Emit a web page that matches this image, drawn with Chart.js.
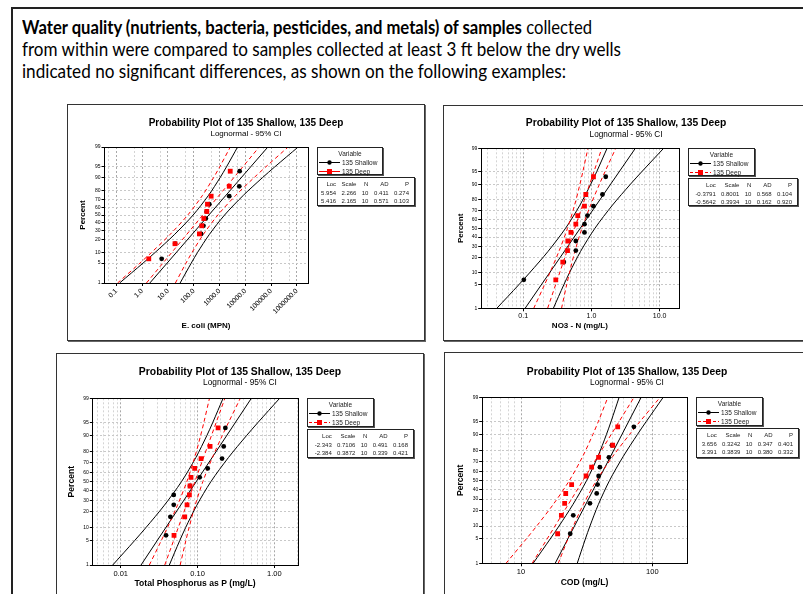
<!DOCTYPE html>
<html>
<head>
<meta charset="utf-8">
<script src="https://cdn.jsdelivr.net/npm/chart.js@4.4.1/dist/chart.umd.min.js"></script>
<style>
  html, body { margin: 0; padding: 0; background: #fff; overflow: hidden; }
  body { width: 803px; height: 594px; position: relative; font-family: 'Liberation Sans', Arial, sans-serif; }
  #frame { position: absolute; left: 11px; top: 7px; width: 900px; height: 700px; border: 2px solid #222; }
  .line { position: absolute; left: 22px; font-family: Lato, 'Open Sans', sans-serif; font-size: 19px; line-height: 22px; white-space: nowrap; transform-origin: 0 0; color: #000; }
  .panel { position: absolute; border: 1px solid #333; box-shadow: 1px 1px 0 #666; background: #fff; }
  .panel canvas { position: absolute; left: 0; top: 0; }
  .leg, .stats { position: absolute; border: 1px solid #222; box-shadow: 1px 1px 0 #555; background: #fff; color: #222; font-size: 6px; box-sizing: border-box; }
  .leg { font-size: 6.5px; }
  .leg .lhead { text-align: center; line-height: 9px; height: 9px; margin-top: 0.5px; }
  .leg .lrow { line-height: 9px; height: 9px; white-space: nowrap; }
  .leg svg { display: inline-block; vertical-align: top; margin-left: 1px; margin-right: 2px; }
  .stats table { border-collapse: collapse; float: right; margin-right: 5px; margin-top: 2px; }
  .stats td { text-align: right; padding: 0 0 0 5.3px; line-height: 8.7px; white-space: nowrap; }
</style>
</head>
<body>
<div id="frame"></div>
<div class="line" id="l1" style="top:16px"><b>Water quality (nutrients, bacteria, pesticides, and metals) of samples</b> collected</div>
<div class="line" id="l2" style="top:38px">from within were compared to samples collected at least 3 ft below the dry wells</div>
<div class="line" id="l3" style="top:60px">indicated no significant differences, as shown on the following examples:</div>
<script>
// plotting positions (median ranks) and percent levels
const rankPct = [6.7, 16.3, 25.9, 35.6, 45.2, 54.8, 64.4, 74.0, 83.7, 93.3];
const ciPct = [1, 5, 10, 25, 50, 75, 90, 95, 99];
const fitPct = [1, 99];
const pctTicks = [1, 5, 10, 20, 30, 40, 50, 60, 70, 80, 90, 95, 99];
const seriesNames = ['135 Shallow', '135 Deep'];
const statHeader = ['Loc', 'Scale', 'N', 'AD', 'P'];

// E. coli
const ecoliShallow = [5.7, 19, 193, 238, 294, 320, 400, 2380, 5840, 6020];
const ecoliDeep = [1.8, 18.7, 166, 204, 245, 320, 340, 473, 2380, 2600];
const ecoliShallowFit = [1.98, 75000];
const ecoliShallowLo = [0.133, 1.08, 3.17, 17.6, 94.6, 375, 1056, 1857, 5020];
const ecoliShallowHi = [29.6, 80, 140, 396, 1570, 8420, 46800, 138000, 1120000];
const ecoliDeepFit = [1.46, 34600];
const ecoliDeepLo = [0.111, 0.816, 2.29, 11.8, 58.8, 219, 590, 1011, 2615];
const ecoliDeepHi = [19.4, 50.0, 85.8, 231, 861, 4286, 22060, 62100, 458000];
const ecoliStats = [['5.954', '2.266', '10', '0.411', '0.274'], ['5.416', '2.165', '10', '0.571', '0.103']];
const ecoliTickVals = [0.1, 1, 10, 100, 1000, 10000, 100000, 1000000];
const ecoliTickLabels = ['0.1', '1.0', '10.0', '100.0', '1000.0', '10000.0', '100000.0', '1000000.0'];
const ecoliGrid = [0.05, 0.1, 0.5, 1, 5, 10, 50, 100, 500, 1000, 5000, 10000, 50000, 100000, 500000, 1000000];

// NO3 - N
const no3Shallow = [0.102, 0.394, 0.59, 0.59, 0.79, 0.79, 0.873, 1.07, 1.45, 1.62];
const no3Deep = [0.30, 0.38, 0.446, 0.45, 0.50, 0.59, 0.63, 0.79, 0.826, 1.07];
const no3ShallowFit = [0.1065, 4.401];
const no3ShallowLo = [0.0410, 0.0858, 0.1257, 0.2304, 0.4169, 0.678, 0.977, 1.193, 1.695];
const no3ShallowHi = [0.2765, 0.3928, 0.4794, 0.6912, 1.124, 2.034, 3.727, 5.462, 11.43];
const no3DeepFit = [0.2278, 1.420];
const no3DeepLo = [0.1425, 0.2049, 0.2472, 0.333, 0.4457, 0.5661, 0.6777, 0.7474, 0.8882];
const no3DeepHi = [0.3643, 0.4329, 0.4774, 0.5716, 0.7259, 0.9717, 1.309, 1.579, 2.271];
const no3Stats = [['-0.3791', '0.8001', '10', '0.568', '0.104'], ['-0.5642', '0.3934', '10', '0.162', '0.920']];
const no3TickVals = [0.1, 1, 10];
const no3TickLabels = ['0.1', '1.0', '10.0'];

// Total phosphorus
const tpShallow = [0.0389, 0.0443, 0.049, 0.049, 0.0798, 0.1067, 0.1355, 0.2083, 0.219, 0.230];
const tpDeep = [0.0494, 0.0681, 0.073, 0.0783, 0.0798, 0.0822, 0.0918, 0.111, 0.1455, 0.185];
const tpShallowFit = [0.01839, 0.5015];
const tpShallowLo = [0.00788, 0.01518, 0.02132, 0.03651, 0.06181, 0.09518, 0.1318, 0.1573, 0.2148];
const tpShallowHi = [0.04295, 0.05863, 0.0700, 0.0969, 0.1492, 0.2527, 0.4326, 0.6075, 1.171];
const tpDeepFit = [0.03745, 0.2269];
const tpDeepLo = [0.0236, 0.03374, 0.04059, 0.0544, 0.07252, 0.09175, 0.1095, 0.1206, 0.143];
const tpDeepHi = [0.05943, 0.07046, 0.07759, 0.09262, 0.1172, 0.1561, 0.2093, 0.2519, 0.3601];
const tpStats = [['-2.343', '0.7106', '10', '0.491', '0.168'], ['-2.384', '0.3872', '10', '0.339', '0.421']];
const tpTickVals = [0.01, 0.1, 1];
const tpTickLabels = ['0.01', '0.10', '1.00'];

// COD
const codShallow = [23.7, 25.0, 33.5, 37.7, 38.3, 39.0, 39.9, 46.7, 49.3, 72.4];
const codDeep = [19.0, 20.3, 21.5, 21.9, 24.3, 31.3, 34.5, 39.0, 49.9, 54.5];
const codShallowFit = [18.21, 82.29];
const codShallowLo = [12.37, 16.68, 19.48, 24.89, 31.67, 38.55, 44.71, 48.47, 55.88];
const codShallowHi = [26.81, 30.91, 33.51, 38.86, 47.32, 60.18, 76.92, 89.81, 121.1];
const codDeepFit = [12.16, 72.54];
const codDeepLo = [7.69, 10.96, 13.17, 17.61, 23.41, 29.56, 35.23, 38.77, 45.88];
const codDeepHi = [19.22, 22.75, 25.03, 29.84, 37.67, 50.09, 66.97, 80.44, 114.7];
const codStats = [['3.656', '0.3242', '10', '0.347', '0.401'], ['3.391', '0.3839', '10', '0.380', '0.332']];
const codTickVals = [10, 100];
const codTickLabels = ['10', '100'];

// 1..9 times each decade, kept inside the axis range
function logGrid(min, max) {
  const out = [];
  for (let e = Math.floor(Math.log10(min)); e <= Math.ceil(Math.log10(max)); e++) {
    for (let m = 1; m <= 9; m++) {
      const v = +(m * Math.pow(10, e)).toPrecision(6);
      if (v > min && v < max) out.push(v);
    }
  }
  return out;
}

// inverse normal cdf (Acklam)
function qnorm(p) {
  const a = [-3.969683028665376e+01, 2.209460984245205e+02, -2.759285104469687e+02, 1.383577518672690e+02, -3.066479806614716e+01, 2.506628277459239e+00];
  const b = [-5.447609879822406e+01, 1.615858368580409e+02, -1.556989798598866e+02, 6.680131188771972e+01, -1.328068155288572e+01];
  const c = [-7.784894002430293e-03, -3.223964580411365e-01, -2.400758277161838e+00, -2.549732539343734e+00, 4.374664141464968e+00, 2.938163982698783e+00];
  const d = [7.784695709041462e-03, 3.224671290700398e-01, 2.445134137142996e+00, 3.754408661907416e+00];
  const pl = 0.02425;
  if (p < pl) {
    const q = Math.sqrt(-2 * Math.log(p));
    return (((((c[0]*q+c[1])*q+c[2])*q+c[3])*q+c[4])*q+c[5]) / ((((d[0]*q+d[1])*q+d[2])*q+d[3])*q+1);
  }
  if (p > 1 - pl) {
    const q = Math.sqrt(-2 * Math.log(1 - p));
    return -(((((c[0]*q+c[1])*q+c[2])*q+c[3])*q+c[4])*q+c[5]) / ((((d[0]*q+d[1])*q+d[2])*q+d[3])*q+1);
  }
  const q = p - 0.5, r = q * q;
  return (((((a[0]*r+a[1])*r+a[2])*r+a[3])*r+a[4])*r+a[5])*q / (((((b[0]*r+b[1])*r+b[2])*r+b[3])*r+b[4])*r+1);
}
function pnorm(z) {
  const t = 1 / (1 + 0.2316419 * Math.abs(z));
  const y = 0.3989423 * Math.exp(-z * z / 2) * t * (0.3193815 + t * (-0.3565638 + t * (1.781478 + t * (-1.821256 + t * 1.330274))));
  return z > 0 ? 1 - y : y;
}

// normal probability axis: values are percents
class ProbabilityScale extends Chart.LinearScale {
  static id = 'probability';
  getPixelForValue(value) {
    const z0 = qnorm(this.min / 100), z1 = qnorm(this.max / 100);
    return this.getPixelForDecimal((qnorm(value / 100) - z0) / (z1 - z0));
  }
  getValueForPixel(pixel) {
    const z0 = qnorm(this.min / 100), z1 = qnorm(this.max / 100);
    return 100 * pnorm(z0 + this.getDecimalForPixel(pixel) * (z1 - z0));
  }
}
Chart.register(ProbabilityScale);

const framePlugin = {
  id: 'frame',
  afterDatasetsDraw(chart) {
    const { ctx, chartArea: a } = chart;
    const l = Math.round(a.left), t = Math.round(a.top), r = Math.round(a.right), b = Math.round(a.bottom);
    ctx.save();
    ctx.strokeStyle = '#000';
    ctx.lineWidth = 1;
    ctx.strokeRect(l + 0.5, t + 0.5, r - l, b - t);
    ctx.restore();
  }
};

Chart.defaults.font.family = "'Liberation Sans', Arial, sans-serif";
Chart.defaults.color = '#000';

const pts = (xs, ps) => xs.map((x, i) => ({ x, y: ps[i] }));

const panels = [
  { box: [68, 105, 356, 235], yW: 36, xH: 57, padR: 116, tSize: 10, tPad: 13, sSize: 8, sPadTop: 1.3, sPadBot: 9.7,
    xFont: 6.8, rot: 45, axFont: 8, xtPad: 10, ytPad: 11, min: 0.033, max: 2.7e6, xTitle: 'E. coli (MPN)',
    shallow: ecoliShallow, deep: ecoliDeep, sFit: ecoliShallowFit, sLo: ecoliShallowLo, sHi: ecoliShallowHi,
    dFit: ecoliDeepFit, dLo: ecoliDeepLo, dHi: ecoliDeepHi, stats: ecoliStats,
    tickVals: ecoliTickVals, tickLabels: ecoliTickLabels, grid: ecoliGrid, solidSample: true,
    legend: [317, 147, 66, 28], statBox: [317, 177, 98, 29] },
  { box: [444, 106, 364, 234], yW: 36.7, xH: 31.7, padR: 129, tSize: 10.3, tPad: 12.15, sSize: 8.2, sPadTop: 1.75, sPadBot: 9.9,
    xFont: 7, rot: 0, axFont: 8, xtPad: 10, ytPad: 12.7, min: 0.0238, max: 19.2, xTitle: 'NO3 - N (mg/L)',
    shallow: no3Shallow, deep: no3Deep, sFit: no3ShallowFit, sLo: no3ShallowLo, sHi: no3ShallowHi,
    dFit: no3DeepFit, dLo: no3DeepLo, dHi: no3DeepHi, stats: no3Stats,
    tickVals: no3TickVals, tickLabels: no3TickLabels, grid: logGrid(0.0238, 19.2),
    legend: [688, 148, 67, 28], statBox: [688, 178, 110, 28] },
  { box: [57, 354, 366, 250], yW: 35.3, xH: 39, padR: 125.3, tSize: 10.4, tPad: 12.5, sSize: 8.3, sPadTop: 1.95, sPadBot: 11.15,
    xFont: 7.5, rot: 0, axFont: 8.6, xtPad: 15.7, ytPad: 10.4, min: 0.00427, max: 2.01, xTitle: 'Total Phosphorus as P (mg/L)',
    shallow: tpShallow, deep: tpDeep, sFit: tpShallowFit, sLo: tpShallowLo, sHi: tpShallowHi,
    dFit: tpDeepFit, dLo: tpDeepLo, dHi: tpDeepHi, stats: tpStats,
    tickVals: tpTickVals, tickLabels: tpTickLabels, grid: logGrid(0.00427, 2.01),
    legend: [307, 398, 67, 29], statBox: [307, 429, 107, 29] },
  { box: [445, 353, 364, 250], yW: 36.7, xH: 39.7, padR: 121.7, tSize: 10.3, tPad: 13.55, sSize: 8.3, sPadTop: 2.0, sPadBot: 10.15,
    xFont: 7.5, rot: 0, axFont: 8.6, xtPad: 15.7, ytPad: 11.4, min: 5.02, max: 184.7, xTitle: 'COD (mg/L)',
    shallow: codShallow, deep: codDeep, sFit: codShallowFit, sLo: codShallowLo, sHi: codShallowHi,
    dFit: codDeepFit, dLo: codDeepLo, dHi: codDeepHi, stats: codStats,
    tickVals: codTickVals, tickLabels: codTickLabels, grid: logGrid(5.02, 184.7),
    legend: [696, 397, 67, 29], statBox: [696, 428, 103, 30] }
];

const RED = '#ff0000';
const blackLine = { showLine: true, pointRadius: 0, borderColor: '#000', borderWidth: 1, tension: 0.3 };
const redLine = { showLine: true, pointRadius: 0, borderColor: RED, borderWidth: 1, borderDash: [4, 3], tension: 0.3 };

function makeChart(p) {
  const [left, top, w, h] = p.box;
  const panel = document.createElement('div');
  panel.className = 'panel';
  Object.assign(panel.style, { left: (left - 1) + 'px', top: (top - 1) + 'px', width: w + 'px', height: h + 'px' });
  const canvas = document.createElement('canvas');
  canvas.width = w; canvas.height = h;
  panel.appendChild(canvas);
  document.body.appendChild(panel);

  const labelMap = new Map(p.tickVals.map((v, i) => [v, p.tickLabels[i]]));
  const isMajor = c => !!(c.tick && labelMap.has(c.tick.value));

  new Chart(canvas, {
    type: 'scatter',
    data: {
      datasets: [
        { label: seriesNames[1], data: pts(p.deep, rankPct), pointStyle: 'rect', pointRadius: 3.4, backgroundColor: RED, borderWidth: 0 },
        { label: seriesNames[0], data: pts(p.shallow, rankPct), pointStyle: 'circle', pointRadius: 2.4, backgroundColor: '#000', borderWidth: 0 },
        { data: pts(p.dFit, fitPct), ...redLine, tension: 0 },
        { data: pts(p.dLo, ciPct), ...redLine },
        { data: pts(p.dHi, ciPct), ...redLine },
        { data: pts(p.sFit, fitPct), ...blackLine, tension: 0 },
        { data: pts(p.sLo, ciPct), ...blackLine },
        { data: pts(p.sHi, ciPct), ...blackLine }
      ]
    },
    options: {
      responsive: false,
      animation: false,
      events: [],
      layout: { padding: 0 },
      plugins: {
        legend: { display: false },
        tooltip: { enabled: false },
        title: { display: true, text: 'Probability Plot of 135 Shallow, 135 Deep', color: '#000',
                 font: { size: p.tSize, weight: 'bold', lineHeight: 1 }, padding: { top: p.tPad, bottom: 0 } },
        subtitle: { display: true, text: 'Lognormal - 95% CI', color: '#000',
                    font: { size: p.sSize, lineHeight: 1 }, padding: { top: p.sPadTop, bottom: p.sPadBot } }
      },
      scales: {
        x: {
          type: 'logarithmic', min: p.min, max: p.max, bounds: 'data',
          afterBuildTicks: s => { s.ticks = p.grid.map(v => ({ value: v })); },
          afterFit: s => { s.height = p.xH; },
          ticks: { autoSkip: false, minRotation: p.rot, maxRotation: p.rot, padding: 1, color: '#000',
                   font: { size: p.xFont }, callback: v => labelMap.has(v) ? labelMap.get(v) : '' },
          grid: { color: c => isMajor(c) ? '#a8a8a8' : '#d4d4d4', lineWidth: 1, tickLength: 3,
                  tickColor: c => isMajor(c) ? '#000' : 'rgba(0,0,0,0)' },
          border: { display: false, dash: [2, 2] },
          title: { display: true, text: p.xTitle, color: '#000', font: { size: p.axFont, weight: 'bold', lineHeight: 1 },
                   padding: { top: 0, bottom: p.xtPad } }
        },
        y: {
          type: 'probability', min: 1, max: 99, bounds: 'data', position: 'left',
          afterBuildTicks: s => { s.ticks = pctTicks.map(v => ({ value: v })); },
          afterFit: s => { s.width = p.yW; },
          ticks: { autoSkip: false, padding: 1, color: '#000', font: { size: 5 }, callback: v => String(v) },
          grid: { color: '#c8c8c8', lineWidth: 1, tickLength: 2.5, tickColor: '#000' },
          border: { display: false, dash: [2, 2] },
          title: { display: true, text: 'Percent', color: '#000', font: { size: p.axFont, weight: 'bold', lineHeight: 1 },
                   padding: { top: p.ytPad, bottom: 0 } }
        },
        pad: {
          type: 'linear', position: 'right', display: true,
          afterFit: s => { s.width = p.padR; },
          ticks: { display: false }, grid: { display: false }, border: { display: false }
        }
      }
    },
    plugins: [framePlugin]
  });

  // legend box
  const [lx, ly, lw, lh] = p.legend;
  const leg = document.createElement('div');
  leg.className = 'leg';
  Object.assign(leg.style, { left: lx + 'px', top: ly + 'px', width: lw + 'px', height: lh + 'px' });
  const sampleShallow = '<svg width="21" height="9"><line x1="0" y1="4.5" x2="21" y2="4.5" stroke="#000" stroke-width="1"/>' +
                        '<circle cx="10.5" cy="4.5" r="2.2" fill="#000"/></svg>';
  const sampleDeep = '<svg width="21" height="9"><line x1="0" y1="4.5" x2="21" y2="4.5" stroke="' + RED + '" stroke-width="1"' +
                     (p.solidSample ? '' : ' stroke-dasharray="3 2"') + '/>' +
                     '<rect x="8" y="2" width="5" height="5" fill="' + RED + '"/></svg>';
  leg.innerHTML = '<div class="lhead">Variable</div>' +
    '<div class="lrow">' + sampleShallow + '<span>' + seriesNames[0] + '</span></div>' +
    '<div class="lrow">' + sampleDeep + '<span>' + seriesNames[1] + '</span></div>';
  document.body.appendChild(leg);

  // statistics table
  const [sx, sy, sw, sh] = p.statBox;
  const st = document.createElement('div');
  st.className = 'stats';
  Object.assign(st.style, { left: sx + 'px', top: sy + 'px', width: sw + 'px', height: sh + 'px' });
  const row = cells => '<tr>' + cells.map(c => '<td>' + c + '</td>').join('') + '</tr>';
  st.innerHTML = '<table>' + row(statHeader) + p.stats.map(row).join('') + '</table>';
  document.body.appendChild(st);
}

panels.forEach(makeChart);

// fit the slide text lines to their widths in the original
const lineWidths = { l1: 570, l2: 599, l3: 544 };
function fitLines() {
  Object.keys(lineWidths).forEach(id => {
    const el = document.getElementById(id);
    el.style.transform = 'none';
    const wNow = el.getBoundingClientRect().width;
    el.style.transform = 'scaleX(' + (lineWidths[id] / wNow) + ')';
  });
}
fitLines();
if (document.fonts && document.fonts.ready) document.fonts.ready.then(fitLines);
</script>
</body>
</html>
